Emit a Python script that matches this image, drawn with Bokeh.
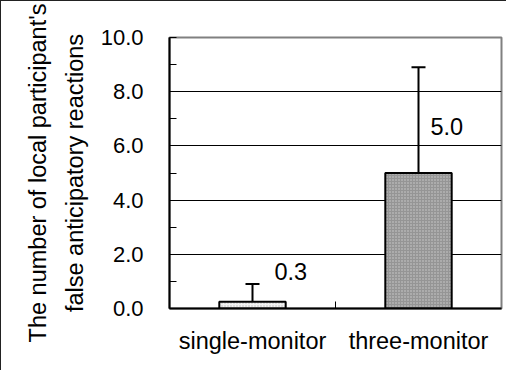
from bokeh.plotting import figure
from bokeh.models import (ColumnDataSource, Range1d, SingleIntervalTicker, FixedTicker,
                          PrintfTickFormatter, Whisker, TeeHead)
from bokeh.embed import file_html
from bokeh.resources import INLINE

# ---- data ----
categories = ["single-monitor", "three-monitor"]
means = [0.25, 5.0]
sds = [0.65, 3.9]
value_labels = ["0.3", "5.0"]
y_label = "The number of local participant's\nfalse anticipatory reactions"

# ---- layout / style constants ----
FONT = "Liberation Sans"
FS = "23.5px"
TICK_FS = "22px"
fills = ["#f2f2f2", "#959595"]
hatch_colors = ["#b8b8b8", "#d0d0d0"]
label_dx = [22, 12]
label_dy = [-30, -47]

xs = [i + 0.5 for i in range(len(categories))]
uppers = [m + s for m, s in zip(means, sds)]

src = ColumnDataSource(dict(x=xs, top=means, upper=uppers, label=value_labels,
                            fill=fills, hatch=hatch_colors, dx=label_dx, dy=label_dy))

p = figure(width=506, height=370, output_backend="svg", toolbar_location=None,
           x_range=Range1d(0, len(categories)), y_range=Range1d(0, 10),
           min_border_left=168, min_border_right=6, min_border_top=36, min_border_bottom=63)
p.styles = {"border-top": "1px solid #222", "border-left": "1px solid #222"}
p.background_fill_color = "white"
p.border_fill_color = "white"
p.outline_line_color = "#808080"
p.outline_line_width = 2

p.vbar(x="x", top="top", bottom=0, width=0.4, source=src, fill_color="fill",
       hatch_pattern="dot", hatch_color="hatch", hatch_scale=3, hatch_weight=1,
       line_color="black", line_width=2)

w = Whisker(source=src, base="x", upper="upper", lower="top", dimension="height",
            line_color="black", line_width=2,
            upper_head=TeeHead(size=14, line_width=2, line_color="black"), lower_head=None)
p.add_layout(w)

p.text(x="x", y="top", text="label", source=src, x_offset="dx", y_offset="dy",
       text_align="left", text_baseline="middle", text_font_size=FS,
       text_font={"value": FONT}, text_color="black")

# y axis
ya = p.yaxis[0]
ya.ticker = SingleIntervalTicker(interval=2, num_minor_ticks=2)
ya.formatter = PrintfTickFormatter(format="%.1f")
ya.axis_line_color = "black"
ya.axis_line_width = 2
ya.major_tick_in = 0
ya.major_tick_out = 0
ya.minor_tick_in = 7
ya.minor_tick_out = 0
ya.minor_tick_line_color = "black"
ya.minor_tick_line_width = 1
ya.major_label_standoff = 26
ya.major_label_text_font = FONT
ya.major_label_text_font_size = TICK_FS
ya.major_label_text_color = "black"
ya.axis_label = y_label
ya.axis_label_text_font = FONT
ya.axis_label_text_font_size = FS
ya.axis_label_text_font_style = "normal"
ya.axis_label_text_color = "black"
ya.axis_label_text_line_height = 1.4
ya.axis_label_standoff = 10

# x axis
xa = p.xaxis[0]
xa.ticker = FixedTicker(ticks=xs, minor_ticks=[i for i in range(1, len(categories))])
xa.major_label_overrides = {x: c for x, c in zip(xs, categories)}
xa.axis_line_color = "black"
xa.axis_line_width = 2
xa.major_tick_in = 0
xa.major_tick_out = 0
xa.minor_tick_in = 7
xa.minor_tick_out = 0
xa.minor_tick_line_color = "black"
xa.minor_tick_line_width = 1
xa.major_label_standoff = 19
xa.major_label_text_font = FONT
xa.major_label_text_font_size = FS
xa.major_label_text_color = "black"

p.xgrid.visible = False
p.ygrid.ticker = SingleIntervalTicker(interval=2)
p.ygrid.grid_line_color = "black"
p.ygrid.grid_line_width = 1

open("out.html", "w").write(file_html(p, INLINE))
